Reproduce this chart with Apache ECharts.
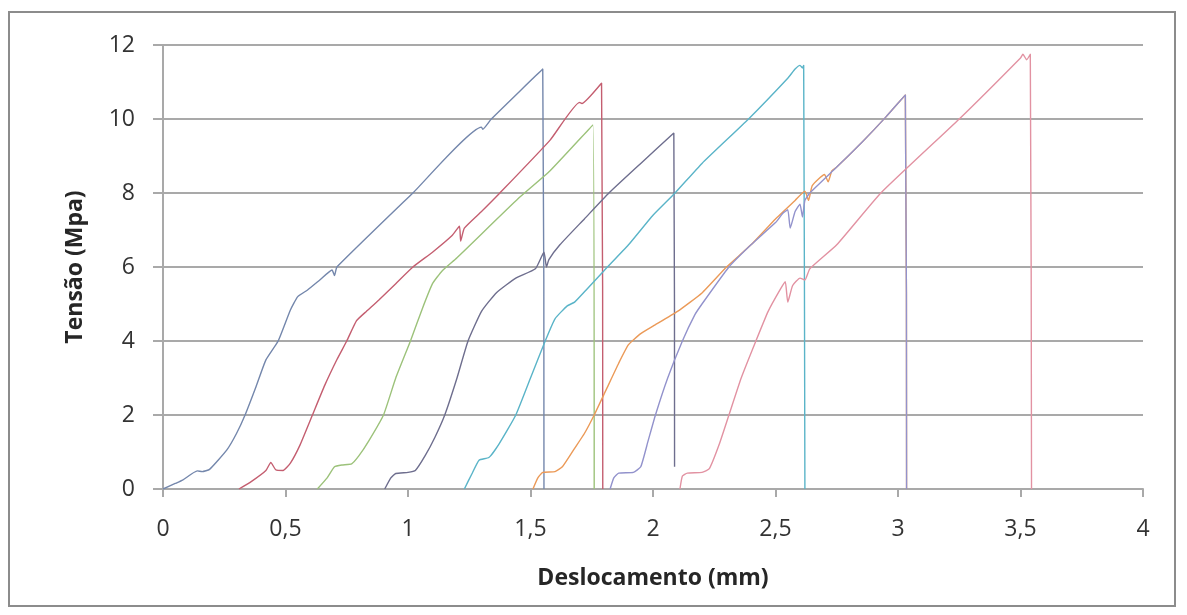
<!DOCTYPE html>
<html>
<head>
<meta charset="utf-8">
<script src="https://cdn.jsdelivr.net/npm/echarts@6/dist/echarts.min.js"></script>
<style>
  html, body { margin: 0; padding: 0; background: #ffffff; }
  #chart { width: 1187px; height: 615px; }
</style>
</head>
<body>
<div id="chart"></div>
<script>
// Displacement (mm) / stress (MPa) readings for eight specimens
const dispA = [0, 0.05, 0.08, 0.14, 0.16, 0.19, 0.26, 0.30, 0.335, 0.38, 0.42, 0.47, 0.52, 0.55, 0.59, 0.64, 0.69, 0.70, 0.71, 1.02, 1.30, 1.305, 1.34, 1.55, 1.555];
const stressA = [0, 0.15, 0.24, 0.49, 0.47, 0.53, 1.05, 1.5, 2.0, 2.77, 3.49, 4.0, 4.84, 5.2, 5.38, 5.65, 5.92, 5.77, 6.0, 8.0, 9.78, 9.72, 10.0, 11.35, 0];

const dispB = [0.31, 0.36, 0.42, 0.44, 0.46, 0.49, 0.52, 0.56, 0.61, 0.66, 0.71, 0.75, 0.79, 0.83, 0.88, 0.95, 1.02, 1.10, 1.18, 1.21, 1.215, 1.23, 1.30, 1.375, 1.58, 1.70, 1.71, 1.79, 1.795];
const stressB = [0, 0.2, 0.5, 0.72, 0.52, 0.5, 0.7, 1.2, 2.0, 2.8, 3.5, 4.0, 4.55, 4.8, 5.1, 5.55, 6.0, 6.4, 6.85, 7.1, 6.7, 7.05, 7.5, 8.0, 9.43, 10.45, 10.42, 10.97, 0];

const dispC = [0.63, 0.67, 0.70, 0.73, 0.77, 0.80, 0.84, 0.90, 0.95, 1.01, 1.06, 1.10, 1.14, 1.20, 1.45, 1.58, 1.755, 1.76];
const stressC = [0, 0.3, 0.6, 0.65, 0.68, 0.9, 1.3, 2.0, 3.0, 4.0, 4.9, 5.55, 5.9, 6.25, 7.85, 8.6, 9.84, 0];

const dispD = [0.905, 0.93, 0.95, 1.0, 1.03, 1.07, 1.11, 1.15, 1.20, 1.245, 1.30, 1.36, 1.44, 1.52, 1.555, 1.565, 1.575, 1.62, 1.72, 1.82, 1.95, 2.085, 2.088];
const stressD = [0, 0.3, 0.42, 0.45, 0.5, 0.9, 1.4, 2.0, 3.0, 4.0, 4.8, 5.3, 5.7, 5.95, 6.4, 6.0, 6.2, 6.6, 7.3, 8.0, 8.8, 9.62, 0.6];

const dispE = [1.23, 1.26, 1.29, 1.33, 1.37, 1.44, 1.50, 1.56, 1.60, 1.65, 1.68, 1.73, 1.80, 1.90, 2.00, 2.09, 2.20, 2.39, 2.55, 2.58, 2.60, 2.61, 2.615, 2.62];
const stressE = [0, 0.4, 0.78, 0.85, 1.2, 2.0, 3.0, 4.0, 4.6, 4.95, 5.05, 5.4, 5.9, 6.6, 7.4, 8.0, 8.8, 10.0, 11.1, 11.35, 11.45, 11.38, 11.45, 0];

const dispF = [1.51, 1.53, 1.55, 1.60, 1.63, 1.68, 1.72, 1.76, 1.81, 1.86, 1.90, 1.95, 2.0, 2.10, 2.20, 2.30, 2.40, 2.50, 2.58, 2.62, 2.635, 2.65, 2.70, 2.715, 2.73, 2.75, 2.85, 2.95, 3.03, 3.035];
const stressF = [0, 0.3, 0.45, 0.47, 0.6, 1.1, 1.5, 2.0, 2.7, 3.4, 3.9, 4.2, 4.4, 4.8, 5.3, 6.0, 6.6, 7.3, 7.8, 8.05, 7.8, 8.2, 8.5, 8.3, 8.6, 8.7, 9.35, 10.05, 10.65, 0];

const dispG = [1.825, 1.84, 1.86, 1.92, 1.95, 1.98, 2.01, 2.06, 2.12, 2.17, 2.20, 2.31, 2.40, 2.50, 2.53, 2.55, 2.56, 2.58, 2.60, 2.61, 2.62, 2.64, 2.75, 2.85, 2.95, 3.03, 3.035];
const stressG = [0, 0.3, 0.43, 0.45, 0.6, 1.3, 2.0, 3.0, 4.0, 4.7, 5.0, 6.0, 6.6, 7.2, 7.45, 7.55, 7.05, 7.5, 7.7, 7.35, 7.8, 8.0, 8.7, 9.35, 10.05, 10.65, 0];

const dispH = [2.11, 2.12, 2.14, 2.20, 2.23, 2.27, 2.31, 2.36, 2.42, 2.47, 2.52, 2.54, 2.55, 2.57, 2.60, 2.62, 2.64, 2.75, 2.93, 3.25, 3.50, 3.51, 3.525, 3.54, 3.545];
const stressH = [0, 0.35, 0.43, 0.45, 0.55, 1.2, 2.0, 3.0, 4.0, 4.8, 5.4, 5.6, 5.05, 5.5, 5.7, 5.65, 5.95, 6.6, 8.0, 10.0, 11.65, 11.75, 11.6, 11.75, 0];

const xTicks = [0, 0.5, 1, 1.5, 2, 2.5, 3, 3.5, 4];
const yTicks = [0, 2, 4, 6, 8, 10, 12];

const specimens = [
  { x: dispA, y: stressA, color: '#7487ac' },
  { x: dispB, y: stressB, color: '#c45e70' },
  { x: dispC, y: stressC, color: '#9cc27a' },
  { x: dispD, y: stressD, color: '#6e6e8e' },
  { x: dispE, y: stressE, color: '#5ab4c8' },
  { x: dispF, y: stressF, color: '#eb9a58' },
  { x: dispG, y: stressG, color: '#9292cc' },
  { x: dispH, y: stressH, color: '#e292a2' }
];

const decimalComma = v => String(v).replace('.', ',');
const gridColor = '#a9a9a9';
const font = '"Open Sans", "Liberation Sans", sans-serif';

const chart = echarts.init(document.getElementById('chart'), null, { renderer: 'canvas' });

chart.setOption({
  animation: false,
  backgroundColor: '#ffffff',
  graphic: [{
    type: 'rect',
    shape: { x: 9, y: 12, width: 1166, height: 594 },
    style: { fill: 'none', stroke: '#8c8c8c', lineWidth: 2 },
    silent: true
  }],
  grid: { left: 163, right: 44, top: 45, bottom: 126 },
  xAxis: {
    type: 'value',
    min: xTicks[0],
    max: xTicks[xTicks.length - 1],
    interval: 0.5,
    name: 'Deslocamento (mm)',
    nameLocation: 'middle',
    nameGap: 78,
    nameTextStyle: { fontFamily: font, fontSize: 23, fontWeight: 'bold', color: '#262626' },
    axisLine: { show: true, lineStyle: { color: gridColor, width: 2 } },
    axisTick: { show: true, inside: false, length: 8, lineStyle: { color: gridColor, width: 2 } },
    axisLabel: { formatter: decimalComma, fontFamily: font, fontSize: 23, color: '#333333', margin: 29 },
    splitLine: { show: false }
  },
  yAxis: {
    type: 'value',
    min: yTicks[0],
    max: yTicks[yTicks.length - 1],
    interval: 2,
    name: 'Tensão (Mpa)',
    nameLocation: 'middle',
    nameRotate: 90,
    nameGap: 76,
    nameTextStyle: { fontFamily: font, fontSize: 23, fontWeight: 'bold', color: '#262626' },
    axisLine: { show: true, lineStyle: { color: gridColor, width: 2 } },
    axisTick: { show: true, inside: false, length: 10, lineStyle: { color: gridColor, width: 2 } },
    axisLabel: { fontFamily: font, fontSize: 23, color: '#333333', margin: 28 },
    splitLine: { show: true, lineStyle: { color: gridColor, width: 2 } }
  },
  series: specimens.map((s, i) => ({
    name: 'CP' + (i + 1),
    type: 'line',
    data: s.x.map((xv, k) => [xv, s.y[k]]),
    showSymbol: false,
    smooth: 0.15,
    lineStyle: { color: s.color, width: 1.4 },
    itemStyle: { color: s.color },
    z: 3
  }))
});
</script>
</body>
</html>
